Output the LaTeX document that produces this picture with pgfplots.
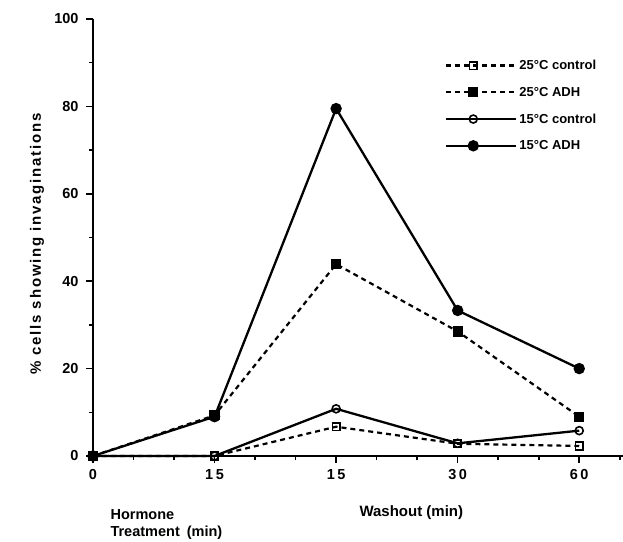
\documentclass[border=0pt]{standalone}
\usepackage{fontspec}
\setmainfont{Liberation Sans}
\newfontfamily\spaced[LetterSpace=12]{Liberation Sans}
\usepackage{pgfplots}
\pgfplotsset{compat=1.18}
\begin{document}
\begin{tikzpicture}[x=1pt,y=1pt]
\path[use as bounding box] (0,0) rectangle (623,541);
\begin{axis}[
  at={(93pt,85pt)}, anchor=south west,
  scale only axis, width=530pt, height=437pt,
  xmin=0, xmax=4.36, ymin=0, ymax=100,
  axis lines*=left,
  axis line style={line width=2pt},
  xtick={0,1,2,3,4},
  xticklabels={0,{1\kern2.5pt5},{1\kern2.5pt5},{3\kern2.5pt0},{6\kern2.5pt0}},
  minor xtick={0.333,0.667,1.333,1.667,2.333,2.667,3.333,3.667,4.333},
  ytick={0,20,...,100}, minor ytick={10,30,50,70,90},
  tick align=outside, major tick length=7pt, minor tick length=4pt,
  every tick/.style={line width=1.6pt, black},
  tick label style={font=\fontsize{14.5}{16}\selectfont\bfseries},
  xticklabel style={yshift=-3pt},
  yticklabel style={xshift=-4pt},
  /pgf/number format/assume math mode=true,
  clip=false,
  legend style={at={(rel axis cs:0.664,0.911)}, anchor=north west, draw=none, fill=none,
    font=\fontsize{13}{15}\selectfont\bfseries, row sep=12pt, inner sep=0pt},
  legend cell align=left,
  legend image code/.code={
    \draw[mark repeat=2,mark phase=2] plot coordinates {(0pt,0pt) (27pt,0pt) (54pt,0pt)};
    \path (0pt,0pt) -- (70pt,0pt);},
]
% 25 C control
\addplot[black, line width=2.2pt, dash pattern=on 5pt off 4pt, mark=square, mark size=3.8pt,
  mark options={solid, fill=white, line width=1.6pt}]
  coordinates {(0,0) (1,0) (2,6.7) (3,2.8) (4,2.3)};
% 25 C ADH
\addplot[black, line width=2.2pt, dash pattern=on 5pt off 4pt, mark=square*, mark size=4pt,
  mark options={solid, fill=black}]
  coordinates {(0,0) (1,9.3) (2,43.9) (3,28.5) (4,9.0)};
% 15 C control
\addplot[black, line width=2.3pt, mark=o, mark size=4pt,
  mark options={solid, fill=white, line width=1.6pt}]
  coordinates {(0,0) (1,0) (2,10.8) (3,2.9) (4,5.8)};
% 15 C ADH
\addplot[black, line width=2.3pt, mark=*, mark size=4.5pt,
  mark options={solid, fill=black}]
  coordinates {(0,0) (1,9.0) (2,79.5) (3,33.3) (4,20.0)};
\legend{25°C control,25°C ADH,15°C control,15°C ADH}
\end{axis}
\node[anchor=base west, font=\fontsize{14.5}{16}\selectfont\bfseries] at (107,22) {Hormone};
\node[anchor=base west, font=\fontsize{14.5}{16}\selectfont\bfseries] at (107,5) {Treatment\kern7pt(min)};
\node[anchor=base west, font=\fontsize{15}{17}\selectfont\bfseries] at (356,25) {Washout (min)};
\node[rotate=90, font=\fontsize{15}{17}\selectfont\bfseries\spaced] at (37,297) {\% cells showing invaginations};
\end{tikzpicture}
\end{document}
